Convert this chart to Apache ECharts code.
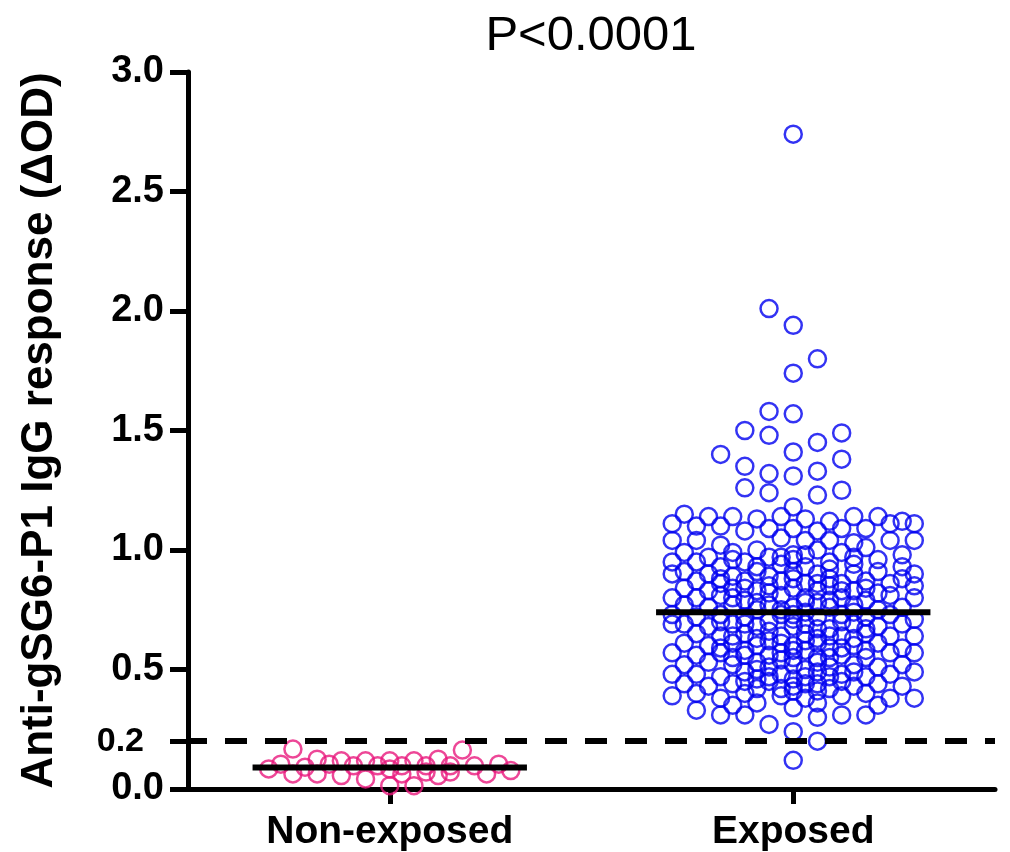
<!DOCTYPE html>
<html>
<head>
<meta charset="utf-8">
<script src="https://cdn.jsdelivr.net/npm/echarts@6/dist/echarts.min.js"></script>
<style>
  html, body { margin: 0; padding: 0; background: #fff; }
  #chart { width: 1010px; height: 852px; }
</style>
</head>
<body>
<div id="chart"></div>
<script>
// group names and axis ticks
const categories = ['Non-exposed', 'Exposed'];
const yTicks = [0, 0.2, 0.5, 1.0, 1.5, 2.0, 2.5, 3.0];
const cutoff = 0.2;
const medians = [0.09, 0.74];

// points as [jitter slot, ΔOD]; slot is the sideways spread inside a column
const nonExposed = [
  [-8, 0.167], [6, 0.163], [-10, 0.084], [-9, 0.104], [-8, 0.063], [-7, 0.091],
  [-6, 0.125], [-6, 0.063], [-5, 0.104], [-4, 0.118], [-4, 0.056], [-3, 0.097],
  [-2, 0.118], [-2, 0.042], [-1, 0.097], [0, 0.118], [0, 0.084], [0, 0.014],
  [1, 0.097], [1, 0.063], [2, 0.118], [2, 0.014], [3, 0.097], [3, 0.071],
  [4, 0.125], [4, 0.056], [5, 0.097], [5, 0.071], [7, 0.097], [8, 0.063],
  [9, 0.104], [10, 0.077]
];

const exposed = [
  // high values
  [0, 2.74], [-2, 2.01], [0, 1.94], [2, 1.80], [0, 1.74], [-2, 1.58], [0, 1.57],
  [-4, 1.50], [-2, 1.48], [4, 1.49], [2, 1.45], [-6, 1.40], [0, 1.41], [4, 1.38],
  [-4, 1.35], [-2, 1.32], [0, 1.31], [2, 1.33], [-4, 1.26], [-2, 1.24], [2, 1.23],
  [4, 1.25], [0, 1.18],
  // main band
  [-9, 1.15], [-7, 1.14], [-5, 1.14], [-3, 1.13], [-1, 1.14], [1, 1.13], [3, 1.12], [5, 1.14], [7, 1.14], [9, 1.12],
  [-10, 1.11], [-8, 1.10], [-6, 1.10], [-4, 1.08], [-2, 1.09], [0, 1.09], [2, 1.08], [4, 1.09], [6, 1.09], [8, 1.11], [10, 1.11],
  [-10, 1.04], [-8, 1.04], [-6, 1.02], [-3, 1.00], [-1, 1.05], [1, 1.04], [3, 1.04], [5, 1.03], [8, 1.04], [10, 1.04],
  [-9, 0.99], [-7, 0.97], [-5, 0.99], [-2, 0.97], [0, 0.98], [2, 1.00], [4, 0.99], [6, 1.01], [9, 0.98],
  [-10, 0.95], [-8, 0.95], [-6, 0.93], [-4, 0.95], [-1, 0.94], [0, 0.96], [1, 0.93], [3, 0.95], [5, 0.94], [7, 0.96], [9, 0.93],
  [-9, 0.91], [-7, 0.90], [-5, 0.89], [-3, 0.91], [-2, 0.89], [0, 0.91], [2, 0.90], [3, 0.88], [5, 0.90], [7, 0.91], [10, 0.90],
  [-10, 0.90], [-8, 0.87], [-6, 0.86], [-4, 0.87], [-1, 0.87], [1, 0.86], [4, 0.86], [6, 0.87], [8, 0.86], [9, 0.88],
  [-9, 0.84], [-7, 0.83], [-5, 0.84], [-3, 0.83], [-2, 0.85], [0, 0.84], [2, 0.83], [3, 0.85], [5, 0.83], [7, 0.82], [10, 0.85],
  [-10, 0.80], [-8, 0.80], [-6, 0.81], [-4, 0.79], [-1, 0.81], [1, 0.80], [2, 0.78], [4, 0.80], [6, 0.79], [8, 0.81], [10, 0.80],
  [-9, 0.77], [-7, 0.76], [-5, 0.77], [-3, 0.75], [-2, 0.77], [0, 0.76], [1, 0.78], [3, 0.76], [5, 0.77], [7, 0.75], [9, 0.76],
  [-10, 0.73], [-8, 0.72], [-6, 0.73], [-4, 0.72], [-1, 0.73], [0, 0.71], [2, 0.72], [4, 0.73], [6, 0.72], [8, 0.73], [10, 0.71],
  [-9, 0.69], [-7, 0.68], [-5, 0.69], [-3, 0.68], [-2, 0.70], [0, 0.68], [1, 0.69], [3, 0.67], [5, 0.69], [7, 0.68], [9, 0.69],
  [-10, 0.69], [-8, 0.65], [-6, 0.64], [-4, 0.65], [-1, 0.64], [1, 0.65], [2, 0.63], [4, 0.64], [6, 0.65], [8, 0.64], [10, 0.64],
  [-9, 0.61], [-7, 0.60], [-5, 0.61], [-3, 0.60], [-2, 0.62], [0, 0.60], [2, 0.61], [3, 0.59], [5, 0.60], [7, 0.61], [9, 0.59],
  [-10, 0.57], [-8, 0.56], [-6, 0.57], [-4, 0.56], [-1, 0.57], [0, 0.55], [1, 0.58], [4, 0.56], [6, 0.55], [8, 0.57], [10, 0.57],
  [-9, 0.52], [-7, 0.53], [-5, 0.52], [-3, 0.53], [-2, 0.51], [0, 0.52], [2, 0.53], [3, 0.51], [5, 0.52], [7, 0.51], [9, 0.52],
  [-10, 0.48], [-8, 0.48], [-6, 0.47], [-4, 0.49], [-1, 0.48], [1, 0.47], [2, 0.49], [4, 0.48], [6, 0.47], [8, 0.48], [10, 0.49],
  [-9, 0.44], [-7, 0.43], [-5, 0.44], [-3, 0.42], [-2, 0.45], [0, 0.43], [2, 0.44], [3, 0.42], [5, 0.43], [7, 0.44], [9, 0.43],
  [-10, 0.39], [-8, 0.40], [-6, 0.38], [-4, 0.40], [-1, 0.39], [0, 0.41], [1, 0.38], [4, 0.39], [6, 0.40], [8, 0.38], [10, 0.38],
  [-8, 0.33], [-6, 0.31], [-4, 0.31], [-5, 0.35], [-3, 0.36], [-2, 0.27], [0, 0.34], [2, 0.30], [2, 0.36], [4, 0.31], [6, 0.31], [7, 0.35],
  // dense middle, overlapping
  [-5, 0.96], [-3, 0.93], [-1, 0.97], [1, 0.98], [3, 0.92], [5, 0.97],
  [-6, 0.88], [-4, 0.84], [-2, 0.82], [0, 0.88], [2, 0.86], [4, 0.83], [6, 0.84],
  [-5, 0.80], [-3, 0.78], [-1, 0.75], [1, 0.74], [3, 0.79], [5, 0.74],
  [-6, 0.70], [-4, 0.69], [-2, 0.66], [0, 0.73], [2, 0.67], [4, 0.70], [6, 0.67],
  [-5, 0.64], [-3, 0.63], [-1, 0.61], [1, 0.62], [3, 0.64], [5, 0.63],
  [-6, 0.59], [-4, 0.58], [-2, 0.56], [0, 0.58], [2, 0.55], [4, 0.59], [6, 0.58],
  [-5, 0.55], [-3, 0.50], [-1, 0.54], [1, 0.50], [3, 0.55], [5, 0.49],
  [-4, 0.45], [-2, 0.47], [0, 0.46], [2, 0.41], [4, 0.45],
  [-1, 0.42], [1, 0.44], [-3, 0.46], [3, 0.47],
  // low values
  [0, 0.24], [2, 0.20], [0, 0.12]
];

const SLOT = 0.03;   // x units per jitter slot
const HALF = 0.34;   // half length of the median bar
const FONT = '"Liberation Sans", Arial, sans-serif';

function toXY(points, idx) {
  return points.map(p => [idx + 1 + p[0] * SLOT, p[1]]);
}

function medianLine(idx) {
  return {
    type: 'line',
    data: [[idx + 1 - HALF, medians[idx]], [idx + 1 + HALF, medians[idx]]],
    symbol: 'none',
    silent: true,
    z: 5,
    lineStyle: { color: '#000', width: 6 }
  };
}

const chart = echarts.init(document.getElementById('chart'));

const option = {
  animation: false,
  title: {
    text: 'P<0.0001',
    left: 586,
    top: 7,
    textAlign: 'center',
    textStyle: { fontFamily: FONT, fontSize: 49, fontWeight: 'normal', color: '#000' }
  },
  grid: { left: 188, right: 15, top: 72, bottom: 62 },
  xAxis: {
    type: 'value',
    min: 0.5,
    max: 2.5,
    splitLine: { show: false },
    axisLine: { lineStyle: { color: '#000', width: 5 } },
    axisTick: { customValues: [1, 2], length: 15, lineStyle: { color: '#000', width: 5 } },
    axisLabel: {
      customValues: [1, 2],
      formatter: v => categories[Math.round(v) - 1],
      margin: 24,
      fontFamily: FONT,
      fontSize: 39,
      fontWeight: 'bold',
      color: '#000'
    }
  },
  yAxis: {
    type: 'value',
    min: 0,
    max: 3,
    name: 'Anti-gSG6-P1 IgG response (ΔOD)',
    nameLocation: 'middle',
    nameGap: 126,
    nameTextStyle: { fontFamily: FONT, fontSize: 44, fontWeight: 'bold', color: '#000' },
    splitLine: { show: false },
    axisLine: { show: true, lineStyle: { color: '#000', width: 5 } },
    axisTick: { customValues: yTicks, length: 18, lineStyle: { color: '#000', width: 5 } },
    axisLabel: {
      customValues: yTicks,
      formatter: v => v === cutoff ? '{s|' + v.toFixed(1) + '}' : v.toFixed(1),
      margin: 24,
      fontFamily: FONT,
      fontSize: 38,
      fontWeight: 'bold',
      color: '#000',
      rich: {
        s: { fontFamily: FONT, fontSize: 34, fontWeight: 'bold', color: '#000', padding: [0, 20, 0, 0] }
      }
    }
  },
  series: [
    {
      type: 'scatter',
      data: toXY(nonExposed, 0),
      symbol: 'circle',
      symbolSize: 17,
      itemStyle: { color: 'rgba(0,0,0,0)', borderColor: '#e8197d', borderWidth: 2.5 }
    },
    {
      type: 'scatter',
      data: toXY(exposed, 1),
      symbol: 'circle',
      symbolSize: 17,
      itemStyle: { color: 'rgba(0,0,0,0)', borderColor: '#0000f0', borderWidth: 2.5 },
      markLine: {
        silent: true,
        symbol: 'none',
        label: { show: false },
        lineStyle: { color: '#000', width: 6, type: [22, 18], dashOffset: 3 },
        data: [{ yAxis: cutoff }]
      }
    },
    medianLine(0),
    medianLine(1)
  ]
};

chart.setOption(option);
</script>
</body>
</html>
